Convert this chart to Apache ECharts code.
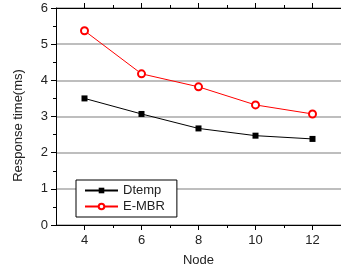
<!DOCTYPE html>
<html>
<head>
<meta charset="utf-8">
<script src="https://cdn.jsdelivr.net/npm/echarts@6/dist/echarts.min.js"></script>
<style>
  html, body { margin: 0; padding: 0; background: #fff; }
  #chart { width: 341px; height: 272px; }
</style>
</head>
<body>
<div id="chart"></div>
<script>
var nodes = [4, 6, 8, 10, 12];
var dtemp = [3.50, 3.07, 2.67, 2.47, 2.38];
var embr = [5.37, 4.18, 3.82, 3.32, 3.07];
var majorX = [4, 6, 8, 10, 12];
var minorX = [5, 7, 9, 11];

function pairs(vals) {
  return nodes.map(function (n, i) { return [n, vals[i]]; });
}

var font = 'Liberation Sans, Arial, sans-serif';
var txt = '#222';

function xAx(pos, ticks, len, showLine, labels) {
  return {
    type: 'value',
    position: pos,
    min: 3,
    max: 13,
    interval: 1,
    axisLine: { show: showLine, onZero: false, lineStyle: { color: '#000', width: 1 } },
    axisTick: { show: true, length: len, customValues: ticks, lineStyle: { color: '#000' } },
    axisLabel: labels ? {
      show: true, customValues: majorX, margin: 9,
      color: txt, fontSize: 13, fontFamily: font
    } : { show: false },
    splitLine: { show: false },
    name: labels ? 'Node' : '',
    nameLocation: 'middle',
    nameGap: 29,
    nameTextStyle: { color: txt, fontSize: 13, fontFamily: font }
  };
}

var chart = echarts.init(document.getElementById('chart'));
chart.setOption({
  animation: false,
  grid: { left: 56, top: 8, right: -6, bottom: 47 },
  legend: {
    left: 76,
    top: 180,
    orient: 'vertical',
    selectedMode: false,
    backgroundColor: '#fff',
    borderColor: '#000',
    borderWidth: 1,
    borderRadius: 0,
    padding: [4, 12, 4, 8],
    itemWidth: 33,
    itemHeight: 7,
    itemGap: 3,
    itemTextGap: 4,
    textStyle: { color: txt, fontSize: 13, fontFamily: font },
    data: ['Dtemp', 'E-MBR']
  },
  xAxis: [
    xAx('bottom', majorX, 5, true, true),
    xAx('bottom', minorX, 3, false, false),
    xAx('top', majorX, 5, true, false),
    xAx('top', minorX, 3, false, false)
  ],
  yAxis: {
    type: 'value',
    min: 0,
    max: 6,
    interval: 1,
    name: 'Response time(ms)',
    nameLocation: 'middle',
    nameGap: 31,
    nameTextStyle: { color: txt, fontSize: 13, fontFamily: font, padding: [0, 18, 0, 0] },
    axisLine: { show: true, lineStyle: { color: '#000', width: 1 } },
    axisTick: { show: true, length: 5, lineStyle: { color: '#000' } },
    minorTick: { show: true, splitNumber: 2, length: 3, lineStyle: { color: '#000' } },
    axisLabel: { color: txt, fontSize: 13, fontFamily: font, margin: 8 },
    splitLine: { show: true, lineStyle: { color: '#a8a8a8', width: 1.5 } }
  },
  series: [
    {
      name: 'Dtemp',
      type: 'line',
      data: pairs(dtemp),
      symbol: 'rect',
      symbolSize: 6,
      color: '#000',
      lineStyle: { color: '#000', width: 1 },
      itemStyle: { color: '#000' }
    },
    {
      name: 'E-MBR',
      type: 'line',
      data: pairs(embr),
      symbol: 'emptyCircle',
      symbolSize: 7,
      color: '#ff0000',
      lineStyle: { color: '#ff0000', width: 1 },
      itemStyle: { color: '#ff0000', borderWidth: 1 }
    }
  ]
});
</script>
</body>
</html>
